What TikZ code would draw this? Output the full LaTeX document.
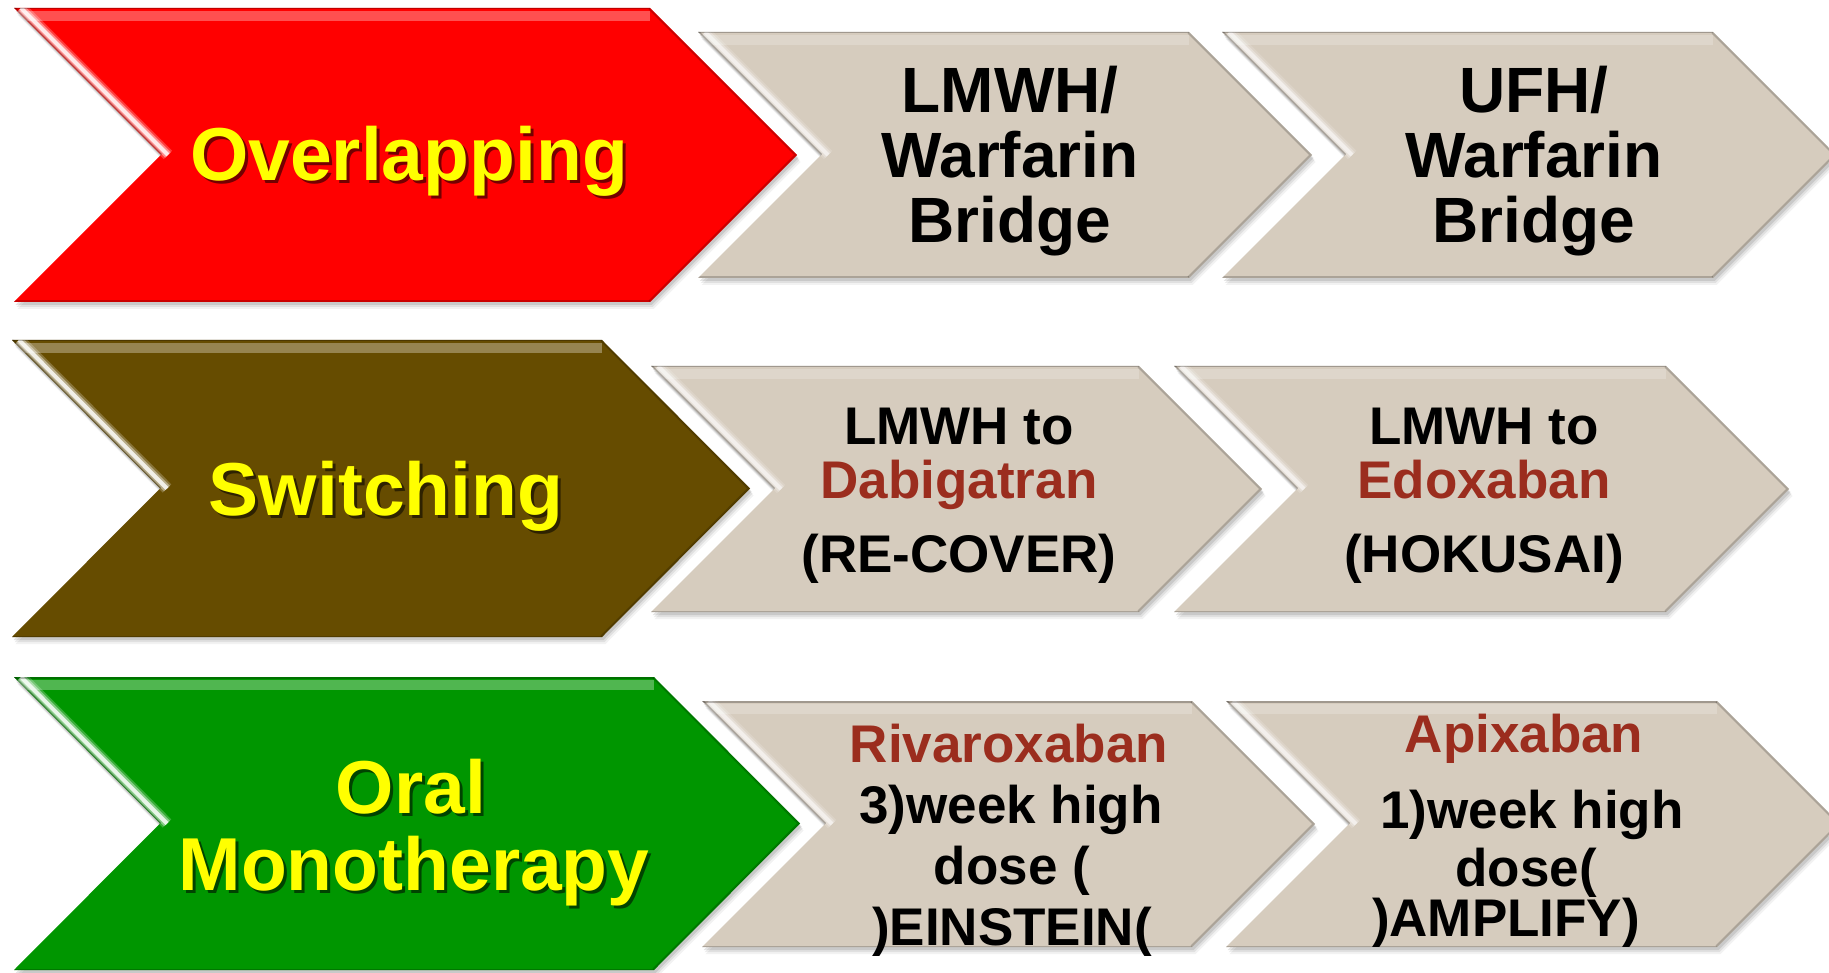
\documentclass[tikz,border=0pt]{standalone}
\usepackage{fontspec}
\setmainfont{Liberation Sans}
\definecolor{chevred}{RGB}{255,0,0}
\definecolor{chevbrown}{RGB}{102,76,0}
\definecolor{chevgreen}{RGB}{0,150,0}
\definecolor{chevgray}{RGB}{214,204,190}
\definecolor{drugred}{RGB}{155,45,30}
\definecolor{labelyellow}{RGB}{255,255,0}

% chevron outline: x0, y0, x1, y1, point depth
\newcommand\chevpath[5]{(#1,#2) -- ({#3-#5},#2) -- (#3,{(#2+#4)/2}) -- ({#3-#5},#4) -- (#1,#4) -- ({#1+#5},{(#2+#4)/2}) -- cycle}

% bevelled chevron with a soft drop shadow: fill, x0, y0, x1, y1, depth, highlight opacity
\newcommand\chevron[7]{%
  \foreach \s/\o in {7/0.05,5/0.07,3/0.1}{%
    \fill[black,opacity=\o,shift={(0.5*\s,\s)}] \chevpath{#2}{#3}{#4}{#5}{#6};}
  \fill[#1] \chevpath{#2}{#3}{#4}{#5}{#6};
  \begin{scope}
    \clip \chevpath{#2}{#3}{#4}{#5}{#6};
    % light band below the top edge
    \draw[white,opacity={0.35*#7},line width=10] ({#2+4},{#3+8}) -- ({#4-#6},{#3+8});
    % soft highlight along the upper left slope
    \foreach \w/\o in {12/0.25,8/0.45,4/0.9}{%
      \draw[white,opacity={\o*#7},line width=\w] ({#2+7},{#3}) -- ({#2+#6+7},{(#3+#5)/2});}
    % darker rims
    \draw[black,opacity=0.25,line width=3] (#2,#3) -- ({#4-#6},#3);
    \draw[black,opacity=0.25,line width=3] (#2,#3) -- ({#2+#6},{(#3+#5)/2});
    \draw[black,opacity=0.2,line width=4] ({#4-#6},#5) -- (#4,{(#3+#5)/2}) -- ({#4-#6},#3);
    \draw[black,opacity=0.2,line width=3] (#2,#5) -- ({#4-#6},#5);
  \end{scope}}

\begin{document}
\begin{tikzpicture}[x=1pt,y=-1pt,
  biglabel/.style={font=\bfseries\fontsize{75}{75}\selectfont, text=labelyellow, anchor=base, inner sep=0pt},
  bigshade/.style={biglabel, text=black, opacity=0.55},
  rowone/.style={font=\bfseries\fontsize{64}{64}\selectfont, anchor=base, inner sep=0pt},
  rowtext/.style={font=\bfseries\fontsize{53}{53}\selectfont, anchor=base, inner sep=0pt},
  drug/.style={rowtext, text=drugred}]
\useasboundingbox (0,0) rectangle (1829,973);
\fill[white] (0,0) rectangle (1829,973);

% row 1
\chevron{chevred}{14}{8}{797}{302}{147}{0.9}
\chevron{chevgray}{698}{32}{1312}{278}{123}{0.6}
\chevron{chevgray}{1222}{32}{1836}{278}{123}{0.6}
% row 2
\chevron{chevbrown}{12}{340}{750}{637}{148}{0.9}
\chevron{chevgray}{651}{366}{1262}{612}{123}{0.6}
\chevron{chevgray}{1174}{366}{1789}{612}{123}{0.6}
% row 3
\chevron{chevgreen}{14}{677}{800}{970}{146}{0.9}
\chevron{chevgray}{702}{701}{1315}{947}{123}{0.6}
\chevron{chevgray}{1226}{701}{1840}{947}{123}{0.6}

% category labels
\node[bigshade] (overS) at (412,184) {Overlapping};
\node[biglabel] (over) at (409,181) {Overlapping};
\node[bigshade] (switchS) at (389,518) {Switching};
\node[biglabel] (switch) at (386,515) {Switching};
\node[bigshade] (oralS) at (414,816) {Oral};
\node[biglabel] (oral) at (411,813) {Oral};
\node[bigshade] (monoS) at (417,893) {Monotherapy};
\node[biglabel] (mono) at (414,890) {Monotherapy};

% row 1 options
\node[rowone] (a1) at (1010,113) {LMWH/};
\node[rowone] (a2) at (1010,178) {Warfarin};
\node[rowone] (a3) at (1010,243) {Bridge};
\node[rowone] (b1) at (1534,113) {UFH/};
\node[rowone] (b2) at (1534,178) {Warfarin};
\node[rowone] (b3) at (1534,243) {Bridge};

% row 2 options
\node[rowtext] (c1) at (959,444) {LMWH to};
\node[drug]    (c2) at (959,498) {Dabigatran};
\node[rowtext] (c3) at (959,572) {(RE-COVER)};
\node[rowtext] (d1) at (1484,444) {LMWH to};
\node[drug]    (d2) at (1484,498) {Edoxaban};
\node[rowtext] (d3) at (1484,572) {(HOKUSAI)};

% row 3 options
\node[drug]    (e1) at (1009,762) {Rivaroxaban};
\node[rowtext] (e2) at (1011,823) {3)week high};
\node[rowtext] (e3) at (1012,884) {dose (};
\node[rowtext] (e4) at (1012,945) {)EINSTEIN(};
\node[drug]    (f1) at (1524,752) {Apixaban};
\node[rowtext] (f2) at (1532,828) {1)week high};
\node[rowtext] (f3) at (1526,886) {dose(};
\node[rowtext] (f4) at (1506,936) {)AMPLIFY)};
\end{tikzpicture}
\end{document}
